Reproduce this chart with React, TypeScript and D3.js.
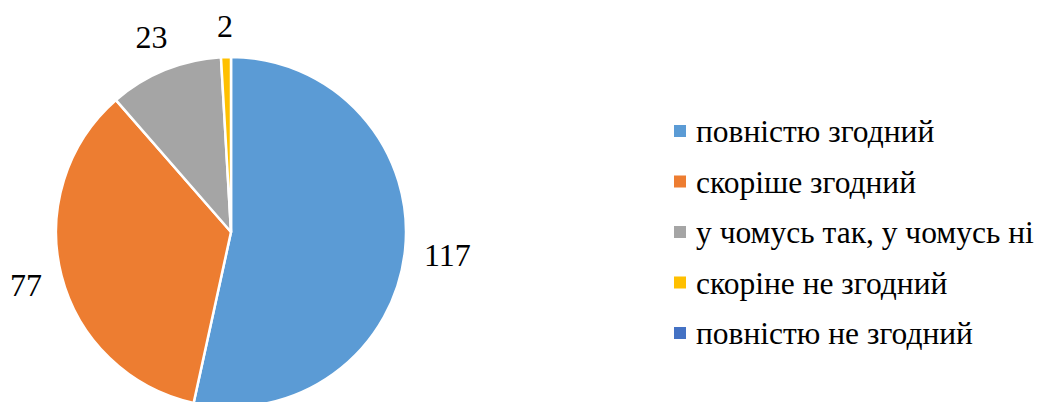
import React from "react";
import * as d3 from "d3";

const categories = [
  "повністю згодний",
  "скоріше згодний",
  "у чомусь так, у чомусь ні",
  "скоріне не згодний",
  "повністю не згодний",
];
const values = [117, 77, 23, 2, 0];
const colors = ["#5B9BD5", "#ED7D31", "#A5A5A5", "#FFC000", "#4472C4"];

const W = 1041;
const H = 402;
const FONT = '"Liberation Serif"';

export default function App() {
  const cx = 231;
  const cy = 232;
  const r = 175;
  const labelFont = 32;
  const pie = d3
    .pie<number>()
    .sort(null)
    .value((d) => d)(values);
  const arc = d3.arc<d3.PieArcDatum<number>>().innerRadius(0).outerRadius(r);

  const markerX = 674;
  const textX = 696;
  const legendBase0 = 142;
  const legendStep = 50.5;
  const legendFont = 31.5;

  return (
    <svg
      width={W}
      height={H}
      style={{ position: "absolute", left: 0, top: 0, background: "#fff" }}
    >
      <rect x={0} y={0} width={W} height={H} fill="#fff" />
      <g transform={`translate(${cx},${cy})`}>
        {pie.map((d, i) =>
          d.value > 0 ? (
            <path
              key={i}
              d={arc(d) || ""}
              fill={colors[i]}
              stroke="#fff"
              strokeWidth={2.5}
              strokeLinejoin="round"
            />
          ) : null
        )}
        {pie.map((d, i) => {
          if (d.value <= 0) return null;
          const mid = (d.startAngle + d.endAngle) / 2;
          const sx = Math.sin(mid);
          const sy = -Math.cos(mid);
          const txt = String(d.value);
          const tw = txt.length * labelFont * 0.45;
          const th = 22;
          const dist =
            r + 20 + (tw / 2) * Math.abs(sx) + (th / 2) * Math.abs(sy);
          return (
            <text
              key={"l" + i}
              x={sx * dist}
              y={sy * dist}
              textAnchor="middle"
              dominantBaseline="central"
              style={{ fontFamily: FONT, fontSize: labelFont }}
              fill="#000"
            >
              {txt}
            </text>
          );
        })}
      </g>
      <g>
        {categories.map((c, i) => {
          const by = legendBase0 + i * legendStep;
          return (
            <g key={c}>
              <rect x={markerX} y={by - 17} width={12} height={12} fill={colors[i]} />
              <text
                x={textX}
                y={by}
                style={{ fontFamily: FONT, fontSize: legendFont }}
                fill="#000"
              >
                {c}
              </text>
            </g>
          );
        })}
      </g>
    </svg>
  );
}
